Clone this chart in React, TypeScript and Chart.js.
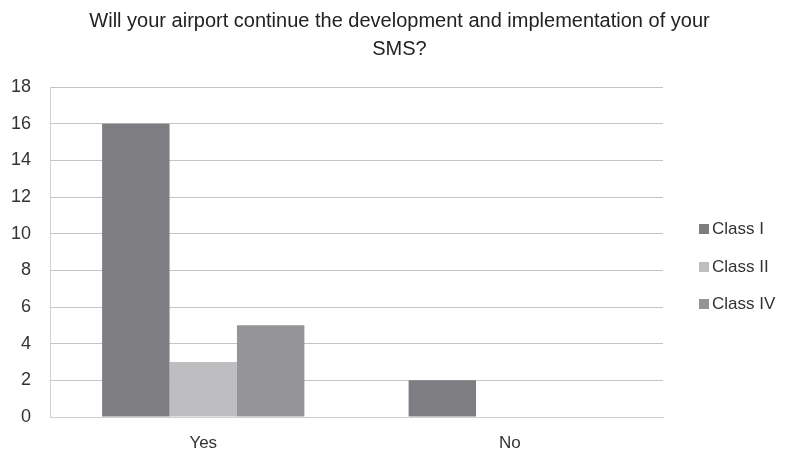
import React, { useEffect, useRef } from "react";
import { Chart, registerables } from "chart.js";

Chart.register(...registerables);

const categories = ["Yes", "No"];
const seriesNames = ["Class I", "Class II", "Class IV"];
const classI = [16, 2];
const classII = [3, 0];
const classIV = [5, 0];
const yTicks = [0, 2, 4, 6, 8, 10, 12, 14, 16, 18];
const titleLines = ["Will your airport continue the development and implementation of your", "SMS?"];
const colors = ["#7e7e82", "#bebec0", "#959599"];

const FONT = "'Liberation Sans', Arial, sans-serif";

const titlePlugin = {
  id: "customTitle",
  afterDraw(chart: any) {
    const ctx = chart.ctx;
    ctx.save();
    ctx.font = `20px ${FONT}`;
    ctx.fillStyle = "#222";
    ctx.textAlign = "center";
    ctx.textBaseline = "middle";
    const cx = chart.width / 2 + 7;
    titleLines.forEach((line, i) => ctx.fillText(line, cx, 21 + i * 28));
    ctx.restore();
  },
};

const legendPlugin = {
  id: "customLegend",
  afterDraw(chart: any) {
    const ctx = chart.ctx;
    const area = chart.chartArea;
    const x = area.right + 36;
    const ys = [229, 267, 304];
    ctx.save();
    ctx.font = `17px ${FONT}`;
    ctx.textBaseline = "middle";
    ctx.textAlign = "left";
    chart.data.datasets.forEach((ds: any, i: number) => {
      ctx.fillStyle = ds.backgroundColor;
      ctx.fillRect(x, ys[i] - 5, 10, 10);
      ctx.fillStyle = "#333";
      ctx.fillText(ds.label, x + 13, ys[i]);
    });
    ctx.restore();
  },
};

export default function App() {
  const ref = useRef<HTMLCanvasElement>(null);
  useEffect(() => {
    document.body.style.margin = "0";
    const chart = new Chart(ref.current!, {
      type: "bar",
      data: {
        labels: categories,
        datasets: [classI, classII, classIV].map((d, i) => ({
          label: seriesNames[i],
          data: d,
          backgroundColor: colors[i],
          borderWidth: 0,
          categoryPercentage: 0.66,
          barPercentage: 1,
        })),
      },
      options: {
        animation: false,
        responsive: false,
        maintainAspectRatio: false,
        layout: { padding: { left: 8, right: 122, top: 87, bottom: 0 } },
        plugins: {
          legend: { display: false },
          tooltip: { enabled: false },
          title: { display: false },
        },
        scales: {
          x: {
            grid: { display: false, drawTicks: false },
            border: { display: true, color: "#d0d0d0", width: 1 },
            ticks: { color: "#333", font: { family: FONT, size: 17 }, padding: 16 },
            afterFit: (axis: any) => {
              axis.height = 40;
            },
          },
          y: {
            min: 0,
            max: 18,
            afterBuildTicks: (axis: any) => {
              axis.ticks = yTicks.map((v) => ({ value: v }));
            },
            afterFit: (axis: any) => {
              axis.width = 42;
            },
            grid: { color: "#c4c4c4", drawTicks: false, lineWidth: 1 },
            border: { display: true, color: "#d0d0d0", width: 1 },
            ticks: { color: "#333", font: { family: FONT, size: 18 }, padding: 19 },
          },
        },
      },
      plugins: [titlePlugin, legendPlugin],
    });
    return () => chart.destroy();
  }, []);
  return (
    <div style={{ width: 785, height: 457, background: "#fff" }}>
      <canvas ref={ref} width={785} height={457} style={{ display: "block" }} />
    </div>
  );
}
